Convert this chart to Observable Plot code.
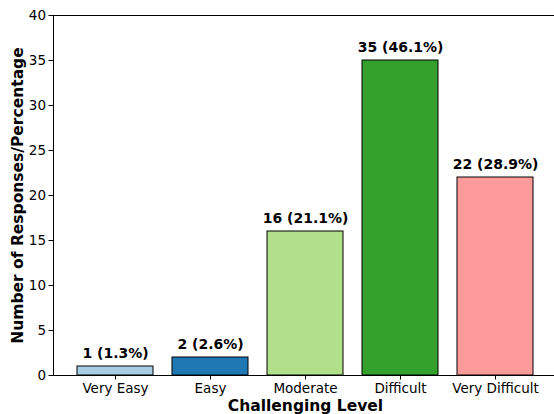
<!DOCTYPE html>
<html>
<head>
<meta charset="utf-8">
<script src="https://cdn.jsdelivr.net/npm/d3@7"></script>
<script src="https://cdn.jsdelivr.net/npm/@observablehq/plot@0.6"></script>
<style>
  html, body { margin: 0; padding: 0; background: #fff; overflow: hidden; }
  svg { display: block; max-width: none !important; }
</style>
</head>
<body>
<div id="chart"></div>
<script>
const levels = ["Very Easy", "Easy", "Moderate", "Difficult", "Very Difficult"];
const counts = [1, 2, 16, 35, 22];
const labels = ["1 (1.3%)", "2 (2.6%)", "16 (21.1%)", "35 (46.1%)", "22 (28.9%)"];
const colors = ["#a6cee3", "#1f78b4", "#b2df8a", "#33a02c", "#fb9a99"];
const yTicks = [0, 5, 10, 15, 20, 25, 30, 35, 40];

const data = levels.map((l, i) => ({level: l, count: counts[i], label: labels[i], color: colors[i]}));

const font = "'DejaVu Sans', sans-serif";

const chart = Plot.plot({
  width: 557,
  height: 414,
  marginLeft: 53,
  marginRight: 0,
  marginTop: 15,
  marginBottom: 39,
  style: {fontFamily: font, fontSize: "13px", color: "#000", background: "#fff"},
  x: {domain: levels, paddingInner: 0.2, paddingOuter: 0.24, axis: null},
  y: {domain: [0, 40], axis: null},
  marks: [
    Plot.barY(data, {x: "level", y: "count", fill: "color", stroke: "#000", strokeWidth: 1}),
    Plot.text(data, {x: "level", y: "count", text: "label", dy: -13, fontWeight: "bold", fontSize: 14, lineAnchor: "middle"}),
    Plot.frame({stroke: "#000", strokeWidth: 1}),
    Plot.axisY({ticks: yTicks, tickSize: 4.5, tickPadding: 3, fontSize: 13.5, label: null}),
    Plot.axisX({tickSize: 4.5, tickPadding: 3, fontSize: 13.5, label: null}),
    Plot.text(["Number of Responses/Percentage"], {frameAnchor: "left", dx: -35, rotate: -90, text: d => d, textAnchor: "middle", fontWeight: "bold", fontSize: 15.5, lineAnchor: "middle"}),
    Plot.text(["Challenging Level"], {frameAnchor: "bottom", dy: 31, text: d => d, textAnchor: "middle", fontWeight: "bold", fontSize: 15.5, lineAnchor: "middle"})
  ]
});
chart.style.maxWidth = "none";
document.getElementById("chart").appendChild(chart);
</script>
</body>
</html>
